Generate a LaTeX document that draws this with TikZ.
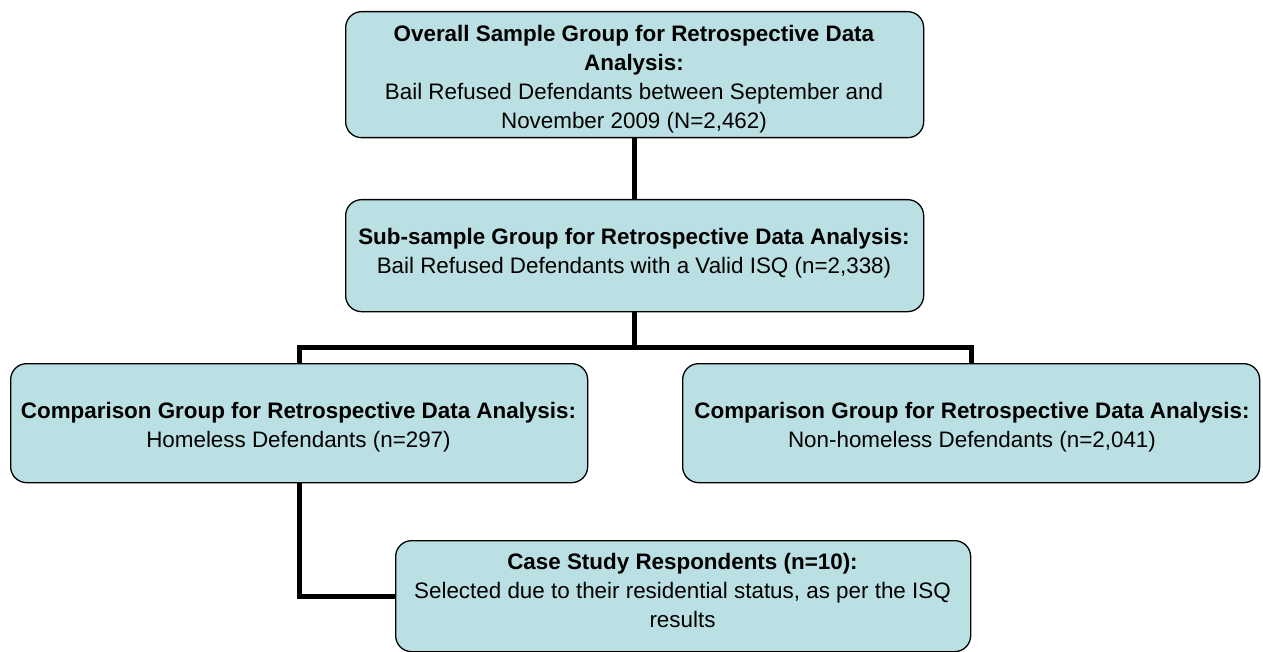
\documentclass[tikz,border=0pt]{standalone}
\usepackage{fontspec}
\setmainfont{Liberation Sans}
\definecolor{boxfill}{RGB}{187,224,227}
\begin{document}
\begin{tikzpicture}[x=1pt,y=-1pt,
  box/.style={draw=black,line width=1.3pt,fill=boxfill,rounded corners=16pt,anchor=north west,inner sep=0pt},
  txt/.style={align=center,font=\fontsize{22.4}{29}\selectfont,inner sep=0pt,anchor=north},
  conn/.style={line width=5pt}]
\useasboundingbox (0,0) rectangle (1263,652);
% boxes
\node[box,minimum width=578pt,minimum height=126pt] (b1) at (345,11) {};
\node[box,minimum width=578pt,minimum height=112pt] (b2) at (345,199) {};
\node[box,minimum width=577pt,minimum height=119pt] (b3) at (10,363) {};
\node[box,minimum width=577pt,minimum height=119pt] (b4) at (682,363) {};
\node[box,minimum width=575pt,minimum height=111pt] (b5) at (395,540) {};
% texts
\node[txt] (t1) at (634,25) {\textbf{Overall Sample Group for Retrospective Data}\\\textbf{Analysis:}\\Bail Refused Defendants between September and\\November 2009 (N=2,462)};
\node[txt] (t2) at (634,228) {\textbf{Sub-sample Group for Retrospective Data Analysis:}\\Bail Refused Defendants with a Valid ISQ (n=2,338)};
\node[txt] (t3) at (298.5,402) {\textbf{Comparison Group for Retrospective Data Analysis:}\\Homeless Defendants (n=297)};
\node[txt] (t4) at (972,402) {\textbf{Comparison Group for Retrospective Data Analysis:}\\Non-homeless Defendants (n=2,041)};
\node[txt] (t5) at (682.5,553) {\textbf{Case Study Respondents (n=10):}\\Selected due to their residential status, as per the ISQ\\results};
% connectors
\coordinate (bar) at (634,347);
\draw[conn] (b1.south -| bar) -- (b2.north -| bar);
\draw[conn] (b2.south -| bar) -- (bar);
\draw[conn] (b3.north) |- (bar) -| (b4.north);
\draw[conn] (b3.south) |- (b5.west);
\end{tikzpicture}
\end{document}
